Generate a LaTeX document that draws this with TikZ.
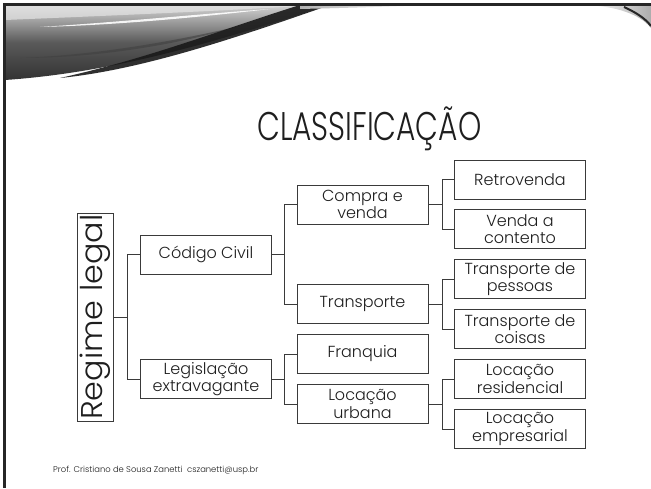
\documentclass[tikz,border=0pt]{standalone}
\usepackage{fontspec}
\setmainfont{Poppins Light}
\newfontfamily\titlefont[FakeStretch=0.74]{Poppins Light}
\newfontfamily\regfont[FakeStretch=1.06]{Poppins Light}
\usetikzlibrary{fadings}
\definecolor{ink}{HTML}{3A3A3A}
\definecolor{txt}{HTML}{1E1E1E}
\begin{document}
\begin{tikzpicture}[x=1pt,y=-1pt,
  box/.style={draw=ink, line width=0.9pt, fill=white, text=txt, minimum width=131pt,
    minimum height=39pt, inner sep=1pt, align=center,
    font=\fontsize{16}{17.5}\selectfont},
  conn/.style={draw=ink, line width=0.9pt}]
\useasboundingbox (0,0) rectangle (651,488);
\fill[white] (0,0) rectangle (651,488);
% top-left swoosh
\shade[top color=gray!35, bottom color=black!80, middle color=gray!70!black]
  (5,5) -- (330,5) .. controls (220,40) and (120,72) .. (5,80) -- cycle;
\fill[gray!20, opacity=0.7] (5,6) -- (300,6) .. controls (200,12) and (100,16) .. (5,20) -- cycle;
\fill[white, opacity=0.9] (40,27) .. controls (120,22) and (200,14) .. (270,9)
  .. controls (200,17) and (120,25) .. (40,27) -- cycle;
\fill[gray!50!black, opacity=0.6] (20,58) .. controls (100,55) and (180,40) .. (240,26)
  .. controls (180,44) and (100,58) .. (20,58) -- cycle;
\fill[black!90, opacity=0.9] (60,78) .. controls (140,70) and (230,40) .. (330,5)
  -- (300,5) .. controls (220,30) and (150,58) .. (60,78) -- cycle;
\shade[left color=gray!60, right color=white] (300,5) -- (430,5) .. controls (380,7) and (340,8) .. (300,9) -- cycle;
% top-right curl
\shade[left color=white, right color=gray!65]
  (585,5) .. controls (615,6) and (640,14) .. (651,28) -- (651,5) -- cycle;
\draw[gray!30!black, line width=2pt] (624,7) .. controls (635,12) and (645,18) .. (651,26);
% frame
\draw[black!85, line width=2.2pt] (651,4.5) -- (4.5,4.5) -- (4.5,488);
% title
\node[anchor=base west, inner sep=0pt, text=txt, font=\titlefont\fontsize{40}{40}\selectfont]
  (title) at (257,140) {CLASSIFICAÇÃO};
% nodes
\node[box, rotate=90, minimum width=208pt, minimum height=36pt,
  font=\regfont\fontsize{30}{32}\selectfont] (reg) at (95,317) {Regime legal};
\node[box] (cc) at (206,254.5) {Código Civil};
\node[box] (leg) at (206,379) {Legislação\\extravagante};
\node[box] (cv) at (362.5,204.5) {Compra e\\venda};
\node[box] (tr) at (362.5,304) {Transporte};
\node[box] (fr) at (362.5,354) {Franquia};
\node[box] (lu) at (362.5,404) {Locação\\urbana};
\node[box] (rv) at (520,179.5) {Retrovenda};
\node[box] (vc) at (520,229) {Venda a\\contento};
\node[box] (tp) at (520,279) {Transporte de\\pessoas};
\node[box] (tc) at (520,329) {Transporte de\\coisas};
\node[box] (lr) at (520,379) {Locação\\residencial};
\node[box] (le) at (520,429) {Locação\\empresarial};
% connectors
\draw[conn] (reg.south) -- ++(14,0) |- (cc.west);
\draw[conn] (reg.south) -- ++(14,0) |- (leg.west);
\draw[conn] (cc.east) -- ++(12,0) |- (cv.west);
\draw[conn] (cc.east) -- ++(12,0) |- (tr.west);
\draw[conn] (leg.east) -- ++(12,0) |- (fr.west);
\draw[conn] (leg.east) -- ++(12,0) |- (lu.west);
\draw[conn] (cv.east) -- ++(14,0) |- (rv.west);
\draw[conn] (cv.east) -- ++(14,0) |- (vc.west);
\draw[conn] (tr.east) -- ++(14,0) |- (tp.west);
\draw[conn] (tr.east) -- ++(14,0) |- (tc.west);
\draw[conn] (lu.east) -- ++(14,0) |- (lr.west);
\draw[conn] (lu.east) -- ++(14,0) |- (le.west);
% footer
\node[anchor=west, inner sep=0pt, text=txt, font=\fontsize{8.4}{9}\selectfont]
  (foot) at (53,470) {Prof. Cristiano de Sousa Zanetti\ \ cszanetti@usp.br};
\end{tikzpicture}
\end{document}
